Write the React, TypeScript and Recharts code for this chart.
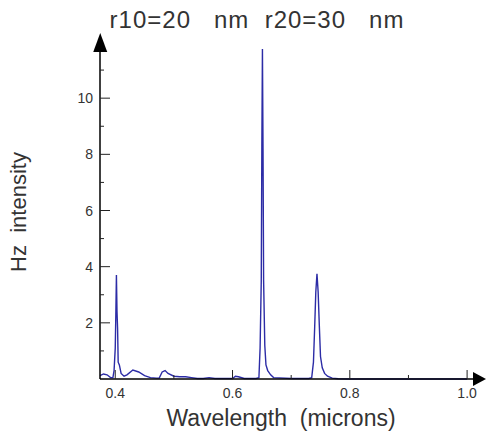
import { LineChart, Line, XAxis, YAxis, ReferenceDot } from "recharts";

const wavelength = [
  0.374, 0.38, 0.386, 0.392, 0.396, 0.398, 0.4, 0.401, 0.402, 0.403, 0.404, 0.405, 0.407, 0.41,
  0.415, 0.42, 0.43, 0.44, 0.45, 0.46, 0.47, 0.475, 0.48, 0.485, 0.49, 0.5, 0.51, 0.52, 0.53,
  0.54, 0.55, 0.56, 0.57, 0.6, 0.605, 0.61, 0.62, 0.64, 0.645, 0.647, 0.649, 0.65, 0.651, 0.652,
  0.653, 0.655, 0.657, 0.66, 0.665, 0.67, 0.7, 0.73, 0.735, 0.738, 0.74, 0.742, 0.744, 0.746,
  0.748, 0.75, 0.753, 0.757, 0.762, 0.77, 0.78, 0.8, 0.9, 1.0,
];
const intensity = [
  0.12, 0.18, 0.15, 0.05, 0.05, 0.3, 1.1, 2.3, 3.7, 2.4, 1.8, 0.6, 0.5, 0.2,
  0.1, 0.15, 0.32, 0.25, 0.12, 0.05, 0.03, 0.03, 0.25, 0.3, 0.2, 0.1, 0.08, 0.08, 0.05,
  0.02, 0.02, 0.05, 0.02, 0.02, 0.1, 0.08, 0.02, 0.02, 0.05, 1.1, 3.5, 8.3, 11.75, 8.2,
  3.5, 1.2, 0.5, 0.3, 0.15, 0.05, 0.02, 0.02, 0.05, 0.6, 1.8, 3.1, 3.75, 3.1,
  1.9, 0.8, 0.4, 0.2, 0.1, 0.03, 0.01, 0, 0, 0,
];
const xTicks = [0.4, 0.5, 0.6, 0.7, 0.8, 0.9, 1.0];
const xLabelled = [0.4, 0.6, 0.8, 1.0];
const yTicks = [1, 2, 3, 4, 5, 6, 7, 8, 9, 10, 11];
const yLabelled = [2, 4, 6, 8, 10];

const data = wavelength.map((w, i) => ({ w, v: intensity[i] }));
const X_MIN = 0.3744;
const X_MAX = 1.022;
const font = "'Liberation Sans', Arial, sans-serif";
const ink = "#333";

function XTick(props: any) {
  const { x, y, payload } = props;
  const major = xLabelled.some((t) => Math.abs(t - payload.value) < 1e-6);
  return (
    <g>
      <line x1={x} y1={y} x2={x} y2={y - (major ? 9 : 4)} stroke="#222" />
      {major && (
        <text x={x} y={y + 19} textAnchor="middle" fontSize={14} fill={ink} fontFamily={font}>
          {payload.value.toFixed(1)}
        </text>
      )}
    </g>
  );
}

function YTick(props: any) {
  const { x, y, payload } = props;
  const major = yLabelled.includes(payload.value);
  return (
    <g>
      <line x1={x} y1={y} x2={x + (major ? 10 : 4)} y2={y} stroke="#222" />
      {major && (
        <text x={x - 7} y={y} dy="0.36em" textAnchor="end" fontSize={14} fill={ink} fontFamily={font}>
          {payload.value}
        </text>
      )}
    </g>
  );
}

const UpArrow = (p: any) => (
  <path d={`M${p.cx - 7},${p.cy + 10} L${p.cx},${p.cy - 9} L${p.cx + 7},${p.cy + 10} Z`} fill="#000" />
);
const RightArrow = (p: any) => (
  <path d={`M${p.cx - 7},${p.cy - 7} L${p.cx + 6},${p.cy} L${p.cx - 7},${p.cy + 7} Z`} fill="#000" />
);

export default function App() {
  return (
    <div style={{ position: "absolute", left: 0, top: 0, width: 486, height: 436, background: "#fff" }}>
      <svg width={486} height={40} style={{ position: "absolute", left: 0, top: 0 }}>
        <text
          x={257}
          y={28}
          textAnchor="middle"
          fontSize={24}
          letterSpacing={1}
          fill={ink}
          fontFamily={font}
          style={{ whiteSpace: "pre" }}
        >
          {"r10=20   nm  r20=30   nm"}
        </text>
      </svg>
      <LineChart width={486} height={436} data={data} margin={{ top: 42, right: 6, bottom: 17, left: 0 }}>
        <XAxis
          dataKey="w"
          type="number"
          domain={[X_MIN, X_MAX]}
          ticks={xTicks}
          interval={0}
          tickSize={0}
          tickMargin={0}
          tick={<XTick />}
          height={40}
          axisLine={{ stroke: "#000", strokeWidth: 1.5 }}
          label={{
            content: (p: any) => (
              <text
                x={p.viewBox.x + 181}
                y={p.viewBox.y + 47}
                textAnchor="middle"
                fontSize={23}
                fill={ink}
                fontFamily={font}
                style={{ whiteSpace: "pre" }}
              >
                {"Wavelength  (microns)"}
              </text>
            ),
          }}
        />
        <YAxis
          type="number"
          domain={[0, 12]}
          ticks={yTicks}
          interval={0}
          tickSize={0}
          tickMargin={0}
          tick={<YTick />}
          width={100}
          axisLine={{ stroke: "#000", strokeWidth: 1.5 }}
          label={{
            content: () => (
              <text
                x={26}
                y={212}
                transform="rotate(-90 26 212)"
                textAnchor="middle"
                fontSize={22}
                fill={ink}
                fontFamily={font}
                style={{ whiteSpace: "pre" }}
              >
                {"Hz  intensity"}
              </text>
            ),
          }}
        />
        <Line
          type="linear"
          dataKey="v"
          stroke="#2c2ca6"
          strokeWidth={1.4}
          dot={false}
          isAnimationActive={false}
        />
        <ReferenceDot x={X_MIN} y={12} ifOverflow="visible" shape={<UpArrow />} />
        <ReferenceDot x={X_MAX} y={0} ifOverflow="visible" shape={<RightArrow />} />
      </LineChart>
    </div>
  );
}
